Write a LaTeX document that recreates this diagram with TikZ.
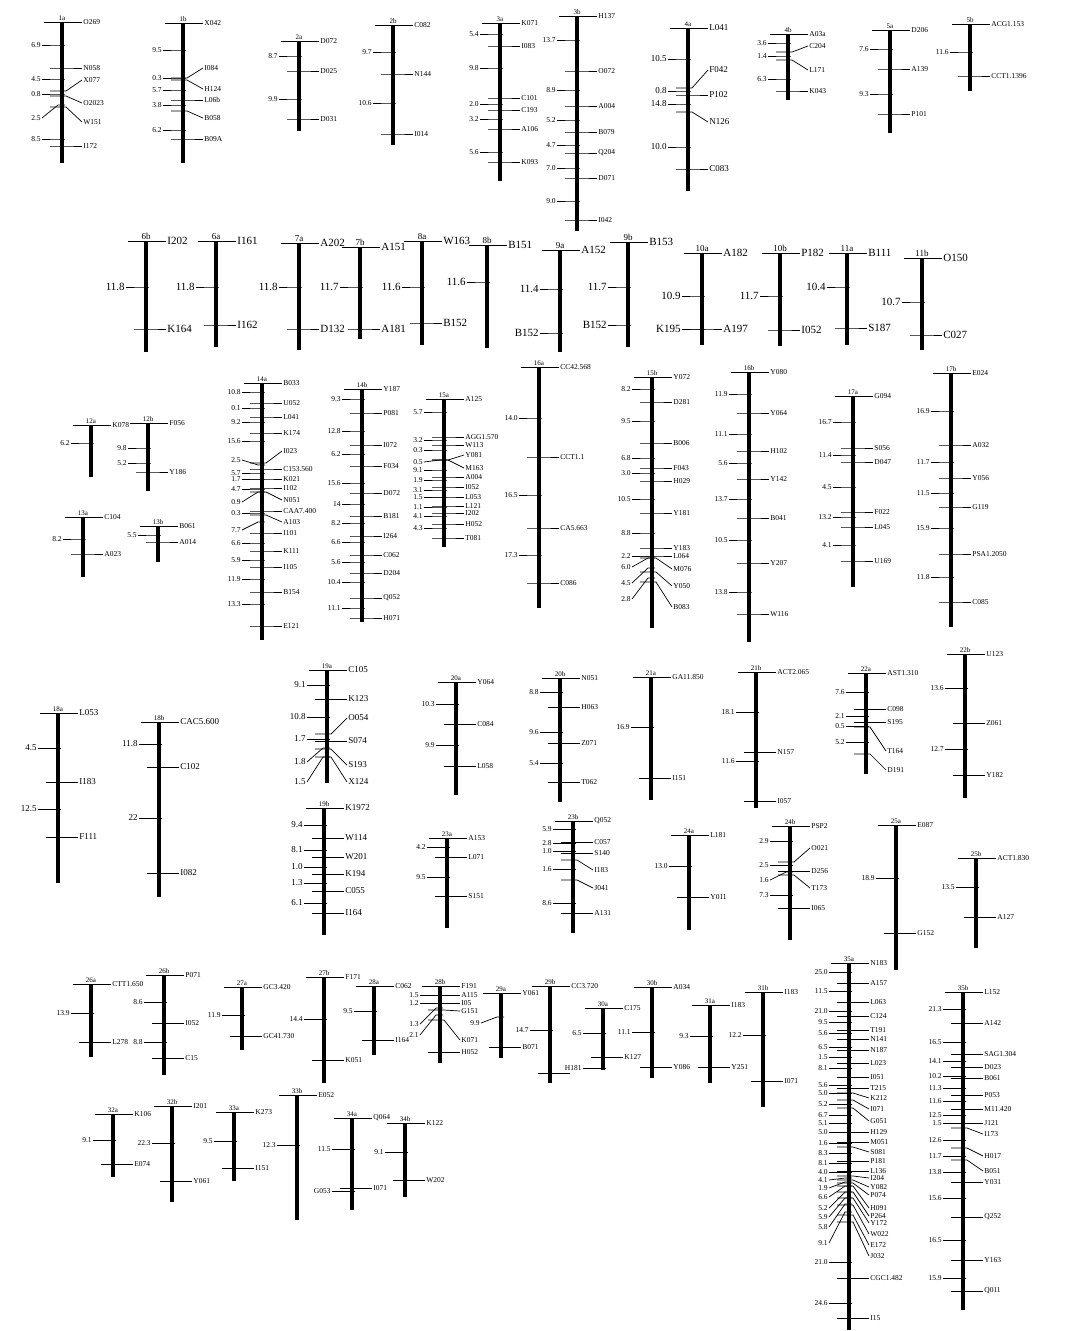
\documentclass[tikz,border=0pt]{standalone}
\usepackage{fontspec}
\setmainfont{Liberation Serif}
\usepackage{tikz}

% one linkage group: x, top, bottom, name, {y/label y/marker}, {y/label y/interval}
\newcommand{\chromo}[6]{%
  \draw[chrbar] (#1,#2) -- (#1,#3);
  \draw[mtick] (#1-18,#2) -- (#1+18,#2);
  \node[chrname] (c#4) at (#1,#2) {#4};
  \foreach \y/\ly/\lab in {#5}{\draw[mtick] (#1-12,\y) -- (#1+4,\y) -- (#1+20,\ly) node[marklabel] {\lab};}
  \foreach \y/\ly/\lab in {#6}{\draw[mtick] (#1+3,\y) -- (#1-4,\y) -- (#1-20,\ly) node[distlabel] {\lab};}
}

\begin{document}
\begin{tikzpicture}[x=1pt, y=-1pt,
    chrbar/.style={line width=4.5pt},
    mtick/.style={line width=0.7pt},
    marklabel/.style={right, inner sep=1pt, font=\fontsize{7.5}{8}\selectfont},
    distlabel/.style={left, inner sep=1pt, font=\fontsize{7.5}{8}\selectfont},
    chrname/.style={above, inner sep=1.5pt, font=\fontsize{7}{8}\selectfont},
    medium/.style={marklabel/.append style={font=\fontsize{9}{10}\selectfont}, distlabel/.append style={font=\fontsize{9}{10}\selectfont}},
    large/.style={marklabel/.append style={font=\fontsize{11}{12}\selectfont}, distlabel/.append style={font=\fontsize{11}{12}\selectfont}, chrname/.append style={font=\fontsize{9}{10}\selectfont}}]
\useasboundingbox (0,0) rectangle (1070,1331);

% row 1
\chromo{62}{22}{163}{1a}{22/22/O269, 68/68/N058, 91/80/X077, 96/103/O2023, 107/122/W151, 146/146/I172}{45/45/6.9, 79/79/4.5, 94/94/0.8, 105/118/2.5, 139/139/8.5}
\chromo{183}{23}{163}{1b}{23/23/X042, 78/68/I084, 80/89/H124, 100/100/L06b, 111/118/B058, 139/139/B09A}{50/50/9.5, 78/78/0.3, 90/90/5.7, 105/105/3.8, 130/130/6.2}
\chromo{299}{41}{131}{2a}{41/41/D072, 71/71/D025, 119/119/D031}{56/56/8.7, 99/99/9.9}
\chromo{393}{25}{145}{2b}{25/25/C082, 74/74/N144, 134/134/I014}{52/52/9.7, 103/103/10.6}
\chromo{500}{23}{181}{3a}{23/23/K071, 46/46/I083, 98/98/C101, 110/110/C193, 129/129/A106, 162/162/K093}{34/34/5.4, 68/68/9.8, 104/104/2.0, 119/119/3.2, 152/152/5.6}
\chromo{577}{16}{231}{3b}{16/16/H137, 71/71/O072, 106/106/A004, 132/132/B079, 153/153/Q204, 178/178/D071, 220/220/I042}{40/40/13.7, 90/90/8.9, 120/120/5.2, 145/145/4.7, 168/168/7.0, 201/201/9.0}
\begin{scope}[medium]
\chromo{688}{28}{191}{4a}{28/28/L041, 88/70/F042, 95/95/P102, 112/122/N126, 169/169/C083}{59/59/10.5, 91/91/0.8, 104/104/14.8, 147/147/10.0}
\end{scope}
\chromo{788}{34}{100}{4b}{34/34/A03a, 52/46/C204, 60/70/L171, 91/91/K043}{43/43/3.6, 56/56/1.4, 79/79/6.3}
\chromo{890}{30}{133}{5a}{30/30/D206, 69/69/A139, 114/114/P101}{49/49/7.6, 94/94/9.3}
\chromo{970}{24}{91}{5b}{24/24/ACG1.153, 76/76/CCT1.1396}{52/52/11.6}

% row 2
\begin{scope}[large]
\chromo{146}{241}{352}{6b}{241/241/I202, 329/329/K164}{287/287/11.8}
\chromo{216}{241}{347}{6a}{241/241/I161, 325/325/I162}{287/287/11.8}
\chromo{299}{243}{350}{7a}{243/243/A202, 329/329/D132}{287/287/11.8}
\chromo{360}{247}{339}{7b}{247/247/A151, 329/329/A181}{287/287/11.7}
\chromo{422}{241}{345}{8a}{241/241/W163, 323/323/B152}{287/287/11.6}
\chromo{487}{245}{348}{8b}{245/245/B151}{282/282/11.6}
\chromo{560}{250}{352}{9a}{250/250/A152}{289/289/11.4, 333/333/B152}
\chromo{628}{242}{347}{9b}{242/242/B153}{287/287/11.7, 325/325/B152}
\chromo{702}{253}{345}{10a}{253/253/A182, 329/329/A197}{296/296/10.9, 329/329/K195}
\chromo{780}{253}{346}{10b}{253/253/P182, 330/330/I052}{296/296/11.7}
\chromo{847}{253}{345}{11a}{253/253/B111, 328/328/S187}{287/287/10.4}
\chromo{922}{258}{350}{11b}{258/258/O150, 335/335/C027}{302/302/10.7}
\end{scope}

% row 3
\chromo{91}{425}{477}{12a}{425/425/K078}{443/443/6.2}
\chromo{148}{423}{491}{12b}{423/423/F056, 472/472/Y186}{448/448/9.8, 463/463/5.2}
\chromo{83}{517}{577}{13a}{517/517/C104, 554/554/A023}{539/539/8.2}
\chromo{158}{526}{562}{13b}{526/526/B061, 542/542/A014}{535/535/5.5}
\chromo{262}{383}{640}{14a}{383/383/B033, 403/403/U052, 417/417/L041, 433/433/K174, 463/451/I023, 469/469/C153.560, 479/479/K021, 488/488/I102, 492/500/N051, 511/511/CAA7.400, 515/522/A103, 533/533/I101, 551/551/K111, 567/567/I105, 592/592/B154, 626/626/E121}{392/392/10.8, 408/408/0.1, 422/422/9.2, 441/441/15.6, 465/460/2.5, 473/473/5.7, 479/479/1.7, 489/489/4.7, 492/502/0.9, 513/513/0.3, 522/530/7.7, 543/543/6.6, 560/560/5.9, 579/579/11.9, 604/604/13.3}
\chromo{362}{389}{622}{14b}{389/389/Y187, 413/413/P081, 445/445/I072, 466/466/F034, 493/493/D072, 516/516/B181, 536/536/I264, 555/555/C062, 573/573/D204, 598/598/Q052, 618/618/H071}{399/399/9.3, 431/431/12.8, 454/454/6.2, 483/483/15.6, 504/504/14, 523/523/8.2, 542/542/6.6, 562/562/5.6, 582/582/10.4, 608/608/11.1}
\chromo{444}{399}{547}{15a}{399/399/A125, 437/437/AGG1.570, 445/445/W113, 460/455/Y081, 460/468/M163, 477/477/A004, 487/487/I052, 497/497/L053, 506/506/L121, 513/513/I202, 524/524/H052, 538/538/T081}{412/412/5.7, 440/440/3.2, 450/450/0.3, 460/462/0.5, 470/470/9.1, 480/480/1.9, 490/490/3.1, 497/497/1.5, 507/507/1.1, 516/516/4.1, 528/528/4.3}
\chromo{539}{367}{608}{16a}{367/367/CC42.568, 457/457/CCT1.1, 528/528/CA5.663, 583/583/C086}{418/418/14.0, 495/495/16.5, 555/555/17.3}
\chromo{652}{377}{628}{15b}{377/377/Y072, 402/402/D281, 443/443/B006, 468/468/F043, 481/481/H029, 513/513/Y181, 548/548/Y183, 556/556/L064, 558/569/M076, 572/586/Y050, 582/607/B083}{389/389/8.2, 421/421/9.5, 458/458/6.8, 473/473/3.0, 499/499/10.5, 533/533/8.8, 556/556/2.2, 558/567/6.0, 568/583/4.5, 578/599/2.8}
\chromo{749}{372}{642}{16b}{372/372/Y080, 413/413/Y064, 451/451/H102, 479/479/Y142, 518/518/B041, 563/563/Y207, 614/614/W116}{394/394/11.9, 434/434/11.1, 463/463/5.6, 499/499/13.7, 540/540/10.5, 592/592/13.8}
\chromo{853}{396}{587}{17a}{396/396/G094, 448/448/S056, 462/462/D047, 512/512/F022, 527/527/L045, 561/561/U169}{422/422/16.7, 455/455/11.4, 487/487/4.5, 517/517/13.2, 545/545/4.1}
\chromo{951}{373}{627}{17b}{373/373/E024, 445/445/A032, 478/478/Y056, 507/507/G119, 554/554/PSA1.2050, 602/602/C085}{411/411/16.9, 462/462/11.7, 493/493/11.5, 528/528/15.9, 577/577/11.8}

% row 4
\begin{scope}[medium]
\chromo{58}{713}{883}{18a}{713/713/L053, 782/782/I183, 837/837/F111}{748/748/4.5, 809/809/12.5}
\chromo{159}{722}{897}{18b}{722/722/CAC5.600, 767/767/C102, 873/873/I082}{744/744/11.8, 818/818/22}
\chromo{327}{670}{783}{19a}{670/670/C105, 699/699/K123, 734/718/O054, 741/741/S074, 749/765/S193, 757/782/X124}{685/685/9.1, 717/717/10.8, 739/739/1.7, 748/762/1.8, 757/782/1.5}
\chromo{324}{808}{935}{19b}{808/808/K1972, 838/838/W114, 857/857/W201, 874/874/K194, 891/891/C055, 913/913/I164}{825/825/9.4, 850/850/8.1, 867/867/1.0, 883/883/1.3, 903/903/6.1}
\end{scope}
\chromo{456}{682}{795}{20a}{682/682/Y064, 724/724/C084, 766/766/L058}{704/704/10.3, 745/745/9.9}
\chromo{560}{678}{802}{20b}{678/678/N051, 707/707/H063, 743/743/Z071, 782/782/T062}{692/692/8.8, 732/732/9.6, 763/763/5.4}
\chromo{651}{677}{800}{21a}{677/677/GA11.850, 778/778/I151}{727/727/16.9}
\chromo{756}{672}{808}{21b}{672/672/ACT2.065, 752/752/N157, 801/801/I057}{712/712/18.1, 761/761/11.6}
\chromo{866}{673}{774}{22a}{673/673/AST1.310, 709/709/C098, 722/722/S195, 727/751/T164, 754/770/D191}{692/692/7.6, 716/716/2.1, 726/726/0.5, 742/742/5.2}
\chromo{965}{654}{798}{22b}{654/654/U123, 723/723/Z061, 775/775/Y182}{688/688/13.6, 749/749/12.7}
\chromo{447}{838}{928}{23a}{838/838/A153, 857/857/L071, 896/896/S151}{847/847/4.2, 877/877/9.5}
\chromo{573}{821}{933}{23b}{821/821/Q052, 842/842/C057, 853/853/S140, 860/870/I183, 880/888/J041, 913/913/A131}{829/829/5.9, 843/843/2.8, 851/851/1.0, 869/869/1.6, 903/903/8.6}
\chromo{689}{835}{930}{24a}{835/835/L181, 897/897/Y011}{866/866/13.0}
\chromo{790}{826}{940}{24b}{826/826/PSP2, 862/848/O021, 871/871/D256, 875/888/T173, 908/908/I065}{841/841/2.9, 865/865/2.5, 872/880/1.6, 895/895/7.3}
\chromo{896}{825}{970}{25a}{825/825/E087, 933/933/G152}{878/878/18.9}
\chromo{976}{858}{948}{25b}{858/858/ACT1.830, 917/917/A127}{887/887/13.5}

% row 5
\chromo{91}{984}{1057}{26a}{984/984/CTT1.650, 1042/1042/L278}{1013/1013/13.9}
\chromo{164}{975}{1075}{26b}{975/975/P071, 1023/1023/I052, 1058/1058/C15}{1002/1002/8.6, 1042/1042/8.8}
\chromo{242}{987}{1050}{27a}{987/987/GC3.420, 1036/1036/GC41.730}{1015/1015/11.9}
\chromo{324}{977}{1083}{27b}{977/977/F171, 1060/1060/K051}{1019/1019/14.4}
\chromo{374}{986}{1055}{28a}{986/986/C062, 1040/1040/I164}{1011/1011/9.5}
\chromo{440}{986}{1063}{28b}{986/986/F191, 995/995/A115, 1003/1003/I05, 1010/1011/G151, 1020/1040/K071, 1052/1052/H052}{995/995/1.5, 1003/1003/1.2, 1008/1024/1.3, 1015/1035/2.1}
\chromo{501}{993}{1058}{29a}{993/993/Y061, 1047/1047/B071}{1017/1023/9.9}
\chromo{550}{986}{1083}{29b}{986/986/CC3.720, 1073/1073/{}}{1030/1030/14.7}
\chromo{603}{1008}{1070}{30a}{1008/1008/C175, 1057/1057/K127}{1033/1033/6.5, 1068/1068/H181}
\chromo{652}{987}{1078}{30b}{987/987/A034, 1067/1067/Y086}{1032/1032/11.1}
\chromo{710}{1005}{1083}{31a}{1005/1005/I183, 1067/1067/Y251}{1036/1036/9.3}
\chromo{763}{992}{1107}{31b}{992/992/I183, 1081/1081/I071}{1035/1035/12.2}

% row 6
\chromo{113}{1114}{1177}{32a}{1114/1114/K106, 1164/1164/E074}{1140/1140/9.1}
\chromo{172}{1106}{1202}{32b}{1106/1106/I201, 1181/1181/Y061}{1143/1143/22.3}
\chromo{234}{1112}{1181}{33a}{1112/1112/K273, 1168/1168/I151}{1141/1141/9.5}
\chromo{297}{1095}{1220}{33b}{1095/1095/E052}{1145/1145/12.3}
\chromo{352}{1118}{1210}{34a}{1118/1118/Q064, 1188/1188/I071}{1149/1149/11.5, 1191/1191/G053}
\chromo{405}{1123}{1197}{34b}{1123/1123/K122, 1180/1180/W202}{1152/1152/9.1}

% long groups
\chromo{849}{963}{1330}{35a}{963/963/N183, 983/983/A157, 1002/1002/L063, 1016/1016/C124, 1030/1030/T191, 1039/1039/N141, 1050/1050/N187, 1063/1063/L023, 1077/1077/I051, 1088/1088/T215, 1093/1098/K212, 1100/1109/I071, 1108/1121/G051, 1132/1132/H129, 1142/1142/M051, 1147/1152/S081, 1161/1161/P181, 1171/1171/L136, 1176/1178/I204, 1180/1187/Y082, 1183/1195/P074, 1186/1208/H091, 1192/1216/P264, 1198/1223/Y172, 1205/1234/W022, 1215/1245/E172, 1222/1256/J032, 1278/1278/CGC1.482, 1318/1318/I15}{972/972/25.0, 991/991/11.5, 1011/1011/21.0, 1022/1022/9.5, 1033/1033/5.6, 1047/1047/6.5, 1057/1057/1.5, 1068/1068/8.1, 1085/1085/5.6, 1093/1093/5.0, 1104/1104/5.2, 1115/1115/6.7, 1123/1123/5.1, 1132/1132/5.0, 1143/1143/1.6, 1153/1153/8.3, 1163/1163/8.1, 1172/1172/4.0, 1178/1180/4.1, 1182/1188/1.9, 1186/1197/6.6, 1192/1208/5.2, 1198/1217/5.9, 1204/1227/5.8, 1212/1243/9.1, 1262/1262/21.0, 1303/1303/24.6}
\chromo{963}{992}{1310}{35b}{992/992/L152, 1023/1023/A142, 1054/1054/SAG1.304, 1067/1067/D023, 1078/1078/B061, 1095/1095/P053, 1109/1109/M11.420, 1123/1123/J121, 1128/1134/I173, 1148/1156/H017, 1160/1171/B051, 1182/1182/Y031, 1217/1217/Q252, 1260/1260/Y163, 1291/1291/Q011}{1009/1009/21.3, 1042/1042/16.5, 1061/1061/14.1, 1076/1076/10.2, 1088/1088/11.3, 1101/1101/11.6, 1115/1115/12.5, 1123/1123/1.5, 1140/1140/12.6, 1156/1156/11.7, 1172/1172/13.8, 1198/1198/15.6, 1240/1240/16.5, 1278/1278/15.9}
\end{tikzpicture}
\end{document}
